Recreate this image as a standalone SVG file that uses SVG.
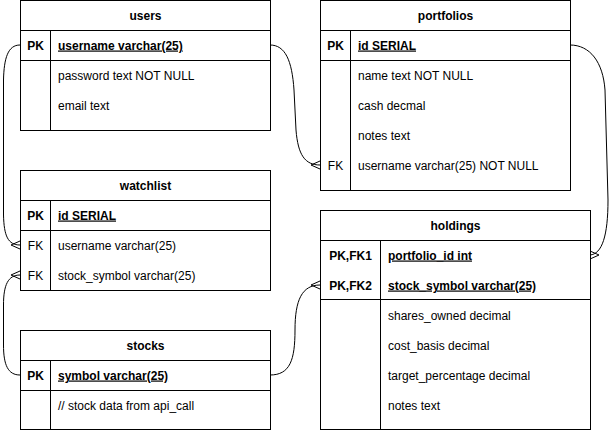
<svg xmlns="http://www.w3.org/2000/svg" width="611" height="431" viewBox="0 0 611 431">
<style>
.box{fill:#fff;stroke:#000;stroke-width:1}
.ln{stroke:#000;stroke-width:1;fill:none}
.hd{font-family:"Liberation Sans",Arial,sans-serif;font-size:12px;font-weight:bold;text-anchor:middle;fill:#000}
.k{font-family:"Liberation Sans",Arial,sans-serif;font-size:12px;font-weight:bold;text-anchor:middle;fill:#000}
.kf{font-family:"Liberation Sans",Arial,sans-serif;font-size:12px;font-weight:bold;text-decoration:underline;fill:#000}
.f{font-family:"Liberation Sans",Arial,sans-serif;font-size:12px;fill:#000}
.fk{font-family:"Liberation Sans",Arial,sans-serif;font-size:12px;text-anchor:middle;fill:#000}
.c{stroke:#000;stroke-width:1;fill:none}
</style>
<rect width="611" height="431" fill="#fff"/>
<g id="connectors">
  <!-- users.username -> watchlist.username -->
  <path class="c" d="M20,45 C8,45 4,58 3.5,80 L3.5,215 C4,236 8,245 20,245"/>
  <path class="c" d="M20,241 L11,245 L20,249"/>
  <!-- users.username -> portfolios.username -->
  <path class="c" d="M270,45 C285,45 292,60 294,90 L296,130 C298,155 305,165 320,165"/>
  <path class="c" d="M320,161 L311,165 L320,169"/>
  <!-- portfolios.id -> holdings.portfolio_id -->
  <path class="c" d="M570,45 C590,45 603,62 605,90 L608,200 C608,236 602,254 590,255"/>
  <path class="c" d="M590,251 L599,255 L590,259"/>
  <!-- stocks.symbol -> watchlist.stock_symbol -->
  <path class="c" d="M20,375 C8,375 3.5,365 3.5,345 L3.5,305 C3.5,285 8,275 20,275"/>
  <path class="c" d="M20,271 L11,275 L20,279"/>
  <!-- stocks.symbol -> holdings.stock_symbol -->
  <path class="c" d="M270,375 C290,375 295,360 295,330 C295,300 302,285 320,285"/>
  <path class="c" d="M320,281 L311,285 L320,289"/>
</g>
<g id="users">
  <rect class="box" x="20.5" y="0.5" width="250" height="130"/>
  <line class="ln" x1="20.5" y1="30.5" x2="270.5" y2="30.5"/>
  <line class="ln" x1="20.5" y1="60.5" x2="270.5" y2="60.5"/>
  <line class="ln" x1="50.5" y1="30.5" x2="50.5" y2="130.5"/>
  <text class="hd" x="145.5" y="19.5">users</text>
  <text class="k" x="35.5" y="49.5">PK</text>
  <text class="kf" x="58" y="49.5">username varchar(25)</text>
  <text class="f" x="58" y="79.5">password text NOT NULL</text>
  <text class="f" x="58" y="109.5">email text</text>
</g>
<g id="watchlist">
  <rect class="box" x="20.5" y="170.5" width="250" height="120"/>
  <line class="ln" x1="20.5" y1="200.5" x2="270.5" y2="200.5"/>
  <line class="ln" x1="20.5" y1="230.5" x2="270.5" y2="230.5"/>
  <line class="ln" x1="50.5" y1="200.5" x2="50.5" y2="290.5"/>
  <text class="hd" x="145.5" y="189.5">watchlist</text>
  <text class="k" x="35.5" y="219.5">PK</text>
  <text class="kf" x="58" y="219.5">id SERIAL</text>
  <text class="fk" x="35.5" y="249.5">FK</text>
  <text class="f" x="58" y="249.5">username varchar(25)</text>
  <text class="fk" x="35.5" y="279.5">FK</text>
  <text class="f" x="58" y="279.5">stock_symbol varchar(25)</text>
</g>
<g id="stocks">
  <rect class="box" x="20.5" y="330.5" width="250" height="99"/>
  <line class="ln" x1="20.5" y1="360.5" x2="270.5" y2="360.5"/>
  <line class="ln" x1="20.5" y1="390.5" x2="270.5" y2="390.5"/>
  <line class="ln" x1="50.5" y1="360.5" x2="50.5" y2="429.5"/>
  <text class="hd" x="145.5" y="349.5">stocks</text>
  <text class="k" x="35.5" y="379.5">PK</text>
  <text class="kf" x="58" y="379.5">symbol varchar(25)</text>
  <text class="f" x="58" y="409.5">// stock data from api_call</text>
</g>
<g id="portfolios">
  <rect class="box" x="320.5" y="0.5" width="250" height="190"/>
  <line class="ln" x1="320.5" y1="30.5" x2="570.5" y2="30.5"/>
  <line class="ln" x1="320.5" y1="60.5" x2="570.5" y2="60.5"/>
  <line class="ln" x1="350.5" y1="30.5" x2="350.5" y2="190.5"/>
  <text class="hd" x="445.5" y="19.5">portfolios</text>
  <text class="k" x="335.5" y="49.5">PK</text>
  <text class="kf" x="358" y="49.5">id SERIAL</text>
  <text class="f" x="358" y="79.5">name text NOT NULL</text>
  <text class="f" x="358" y="109.5">cash decmal</text>
  <text class="f" x="358" y="139.5">notes text</text>
  <text class="fk" x="335.5" y="169.5">FK</text>
  <text class="f" x="358" y="169.5">username varchar(25) NOT NULL</text>
</g>
<g id="holdings">
  <rect class="box" x="320.5" y="210.5" width="270" height="219"/>
  <line class="ln" x1="320.5" y1="240.5" x2="590.5" y2="240.5"/>
  <line class="ln" x1="320.5" y1="299.5" x2="590.5" y2="299.5"/>
  <line class="ln" x1="380.5" y1="240.5" x2="380.5" y2="429.5"/>
  <text class="hd" x="455.5" y="229.5">holdings</text>
  <text class="k" x="350.5" y="259.5">PK,FK1</text>
  <text class="kf" x="388" y="259.5">portfolio_id int</text>
  <text class="k" x="350.5" y="289.5">PK,FK2</text>
  <text class="kf" x="388" y="289.5">stock_symbol varchar(25)</text>
  <text class="f" x="388" y="319.5">shares_owned decimal</text>
  <text class="f" x="388" y="349.5">cost_basis decimal</text>
  <text class="f" x="388" y="379.5">target_percentage decimal</text>
  <text class="f" x="388" y="409.5">notes text</text>
</g>
</svg>
